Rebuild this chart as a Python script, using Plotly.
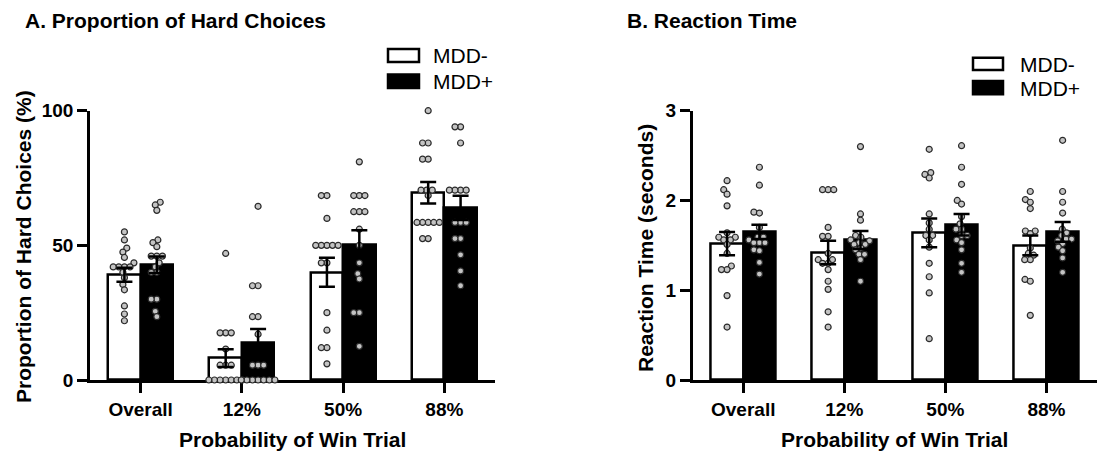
import math
import plotly.graph_objects as go

W, H = 1097, 453

categories = ["Overall", "12%", "50%", "88%"]
groups = ["MDD-", "MDD+"]

# Panel A: proportion of hard choices (%)
A_mean_neg = [39.1, 8.1, 40.0, 69.5]
A_sem_neg = [2.6, 3.3, 5.4, 4.0]
A_mean_pos = [42.8, 13.9, 50.4, 63.9]
A_sem_pos = [3.1, 5.0, 5.2, 4.5]

A_dots_neg = [
    [55, 52, 49, 47.5, 45.5, 43.5, 42, 42, 42, 42, 40, 38, 35.5, 33.5, 27.5, 24.5, 22],
    [47, 17.5, 17.5, 17.5, 11.5, 5.5, 5.5, 5.5, 0, 0, 0, 0, 0, 0, 0],
    [68.5, 68.5, 60, 50, 50, 50, 50, 50, 43.5, 43.5, 25, 18.5, 12, 12, 6],
    [100, 88, 88, 82, 82, 70.5, 70.5, 70.5, 68.5, 58.5, 58.5, 58.5, 58.5, 58.5, 52.5, 52.5],
]
A_dots_pos = [
    [66, 65, 63, 52, 51, 49.5, 46, 46, 46, 43.5, 42, 40, 40, 30, 30, 25.5, 23.5],
    [64.5, 35, 35, 23.5, 23.5, 17, 5.5, 5.5, 5.5, 0, 0, 0, 0, 0, 0, 0],
    [81, 68.5, 68.5, 68.5, 62.5, 62.5, 62.5, 56, 50, 43.5, 39.5, 37.5, 25, 25, 12.5],
    [94, 94, 88, 70.5, 70.5, 70.5, 70.5, 58.5, 58.5, 58.5, 52.5, 52.5, 46.5, 40.5, 35],
]

# Panel B: reaction time (seconds)
B_mean_neg = [1.52, 1.42, 1.64, 1.50]
B_sem_neg = [0.13, 0.13, 0.16, 0.11]
B_mean_pos = [1.65, 1.56, 1.73, 1.65]
B_sem_pos = [0.08, 0.10, 0.12, 0.11]

B_dots_neg = [
    [2.22, 2.12, 2.07, 1.94, 1.64, 1.59, 1.59, 1.56, 1.56, 1.51, 1.41, 1.27, 1.23, 1.23, 0.94, 0.59],
    [2.12, 2.12, 2.12, 1.70, 1.60, 1.60, 1.41, 1.34, 1.34, 1.30, 1.30, 1.23, 1.10, 1.01, 0.76, 0.59],
    [2.57, 2.31, 2.29, 2.25, 1.85, 1.75, 1.68, 1.61, 1.61, 1.56, 1.48, 1.30, 1.15, 0.97, 0.46],
    [2.10, 2.01, 1.98, 1.91, 1.66, 1.66, 1.63, 1.47, 1.41, 1.39, 1.34, 1.34, 1.12, 1.10, 0.72],
]
B_dots_pos = [
    [2.37, 2.17, 1.87, 1.86, 1.70, 1.59, 1.59, 1.56, 1.53, 1.53, 1.53, 1.45, 1.44, 1.31, 1.18],
    [2.60, 1.85, 1.78, 1.61, 1.59, 1.56, 1.55, 1.53, 1.51, 1.51, 1.47, 1.45, 1.40, 1.40, 1.34, 1.10],
    [2.61, 2.37, 2.18, 2.00, 1.96, 1.82, 1.74, 1.68, 1.68, 1.61, 1.61, 1.56, 1.53, 1.45, 1.30, 1.20],
    [2.67, 2.10, 1.98, 1.86, 1.68, 1.64, 1.61, 1.57, 1.57, 1.55, 1.52, 1.48, 1.44, 1.36, 1.20],
]

FONT = "Liberation Sans, Arial, sans-serif"
BAR_W = 0.32
OFF = 0.16
PLOT_TOP, PLOT_BOT = 110.7, 380.0
PX_PER_CAT = 101.1


def px(xp):
    return xp / W


def py(yp):
    return 1 - yp / H


def swarm(vals, ppy, d=5.6):
    order = sorted(range(len(vals)), key=lambda i: vals[i])
    placed = []
    offs = [0.0] * len(vals)
    for i in order:
        y = vals[i] * ppy
        cands = {0.0}
        for (ox, oy) in placed:
            dy = y - oy
            if abs(dy) < d:
                dx = math.sqrt(d * d - dy * dy)
                cands.add(ox + dx)
                cands.add(ox - dx)
        best = 0.0
        for c in sorted(cands, key=lambda v: (abs(v), v)):
            if all((c - ox) ** 2 + (y - oy) ** 2 >= d * d - 1e-6 for ox, oy in placed):
                best = c
                break
        placed.append((best, y))
        offs[i] = best / PX_PER_CAT
    return offs


fig = go.Figure()

panels = [
    ("x", "y", A_mean_neg, A_sem_neg, A_mean_pos, A_sem_pos, A_dots_neg, A_dots_pos, 100.0),
    ("x2", "y2", B_mean_neg, B_sem_neg, B_mean_pos, B_sem_pos, B_dots_neg, B_dots_pos, 3.0),
]

for xa, ya, mn, sn, mp, sp, dn, dp, ymax in panels:
    ppy = (PLOT_BOT - PLOT_TOP) / ymax
    xs_neg = [i - OFF for i in range(len(categories))]
    xs_pos = [i + OFF for i in range(len(categories))]
    fig.add_trace(go.Bar(x=xs_neg, y=mn, width=BAR_W, name=groups[0],
                         marker=dict(color="white", line=dict(color="black", width=2.5)),
                         xaxis=xa, yaxis=ya, showlegend=False))
    fig.add_trace(go.Bar(x=xs_pos, y=mp, width=BAR_W, name=groups[1],
                         marker=dict(color="black", line=dict(color="black", width=2.5)),
                         xaxis=xa, yaxis=ya, showlegend=False))
    for xs, dots in ((xs_neg, dn), (xs_pos, dp)):
        dx, dy = [], []
        for xc, vals in zip(xs, dots):
            offs = swarm(vals, ppy)
            dx += [xc + o for o in offs]
            dy += vals
        fig.add_trace(go.Scatter(x=dx, y=dy, mode="markers", xaxis=xa, yaxis=ya,
                                 showlegend=False, cliponaxis=False,
                                 marker=dict(size=6, color="#c4c4c4",
                                             line=dict(color="#2a2a2a", width=1.2))))
    for xs, m, s in ((xs_neg, mn, sn), (xs_pos, mp, sp)):
        fig.add_trace(go.Scatter(x=xs, y=m, mode="markers", xaxis=xa, yaxis=ya,
                                 showlegend=False, cliponaxis=False,
                                 marker=dict(size=1, color="rgba(0,0,0,0)"),
                                 error_y=dict(type="data", array=s, visible=True,
                                              color="black", thickness=2.5, width=8)))

tickfont = dict(family=FONT, size=19, color="black", weight="bold")
axis_common = dict(showline=True, linewidth=2.5, linecolor="black", ticks="outside",
                   ticklen=10, tickwidth=2.5, tickcolor="black", showgrid=False,
                   zeroline=False, tickfont=tickfont, layer="below traces",
                   automargin=False)

ydom = [py(PLOT_BOT), py(PLOT_TOP)]
fig.update_layout(
    width=W, height=H, margin=dict(l=0, r=0, t=0, b=0, pad=0, autoexpand=False),
    paper_bgcolor="white", plot_bgcolor="white", bargap=0,
    xaxis=dict(domain=[px(90), px(495)], range=[-0.5, 3.5], tickvals=[0, 1, 2, 3],
               ticktext=categories, anchor="y", **axis_common),
    yaxis=dict(domain=ydom, range=[0, 100], tickvals=[0, 50, 100], anchor="x", **axis_common),
    xaxis2=dict(domain=[px(692.7), 1.0], range=[-0.5, 3.5], tickvals=[0, 1, 2, 3],
                ticktext=categories, anchor="y2", **axis_common),
    yaxis2=dict(domain=ydom, range=[0, 3], tickvals=[0, 1, 2, 3], anchor="x2", **axis_common),
)

title_font = dict(family=FONT, size=21, color="black", weight="bold")
ann = [
    dict(text="A. Proportion of Hard Choices", x=px(23), y=py(20), xanchor="left", yanchor="middle"),
    dict(text="B. Reaction Time", x=px(625), y=py(20), xanchor="left", yanchor="middle"),
    dict(text="Probability of Win Trial", x=px(292.5), y=py(439), xanchor="center", yanchor="middle"),
    dict(text="Probability of Win Trial", x=px(894.8), y=py(439), xanchor="center", yanchor="middle"),
    dict(text="Proportion of Hard Choices (%)", x=px(23), y=py(247), xanchor="center",
         yanchor="middle", textangle=-90),
    dict(text="Reaction Time (seconds)", x=px(645), y=py(248), xanchor="center",
         yanchor="middle", textangle=-90),
]
for a in ann:
    fig.add_annotation(xref="paper", yref="paper", showarrow=False, font=title_font, **a)

# Legends (drawn as boxes + labels)
leg_font = dict(family=FONT, size=21, color="black")
for (x0, x1, ya0, ya1, yb0, yb1, tx, tya, tyb) in [
    (388, 419, 49, 62, 74.5, 88, 431, 56, 81.5),
    (973, 1003, 57.7, 70, 81, 94.3, 1018, 64, 88),
]:
    fig.add_shape(type="rect", xref="paper", yref="paper", x0=px(x0), x1=px(x1),
                  y0=py(ya1), y1=py(ya0), fillcolor="white", line=dict(color="black", width=2.5))
    fig.add_shape(type="rect", xref="paper", yref="paper", x0=px(x0), x1=px(x1),
                  y0=py(yb1), y1=py(yb0), fillcolor="black", line=dict(color="black", width=2.5))
    fig.add_annotation(xref="paper", yref="paper", x=px(tx), y=py(tya), text=groups[0],
                       showarrow=False, xanchor="left", yanchor="middle", font=leg_font)
    fig.add_annotation(xref="paper", yref="paper", x=px(tx), y=py(tyb), text=groups[1],
                       showarrow=False, xanchor="left", yanchor="middle", font=leg_font)

fig.write_html("out.html", config={"displayModeBar": False},
               post_script="document.body.style.margin='0px';document.body.style.overflow='hidden';")
